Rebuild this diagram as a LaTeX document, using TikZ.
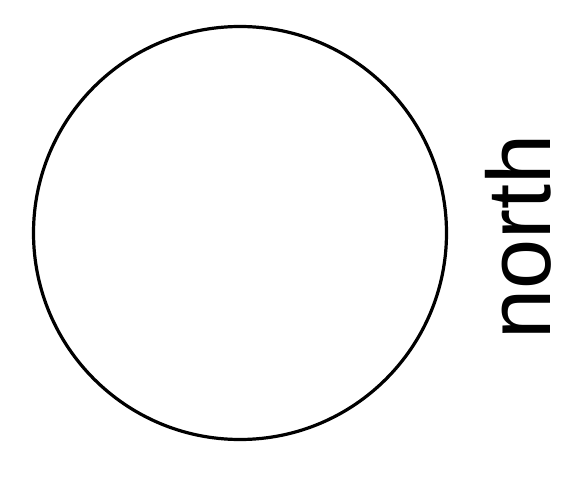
\documentclass[tikz,border=0pt]{standalone}
\usepackage{fontspec}
\setmainfont{Liberation Sans}
\begin{document}
\begin{tikzpicture}[x=1pt,y=-1pt,
  ring/.style={circle, draw=black, line width=3.2pt, minimum size=413pt, inner sep=0pt},
  lbl/.style={inner sep=0pt, rotate=90, font=\fontsize{90}{90}\selectfont}]
\useasboundingbox (0,0) rectangle (583,478);
\node[ring] (c) at (240,233) {};
\node[lbl] (t) at (518,237) {north};
\end{tikzpicture}
\end{document}
